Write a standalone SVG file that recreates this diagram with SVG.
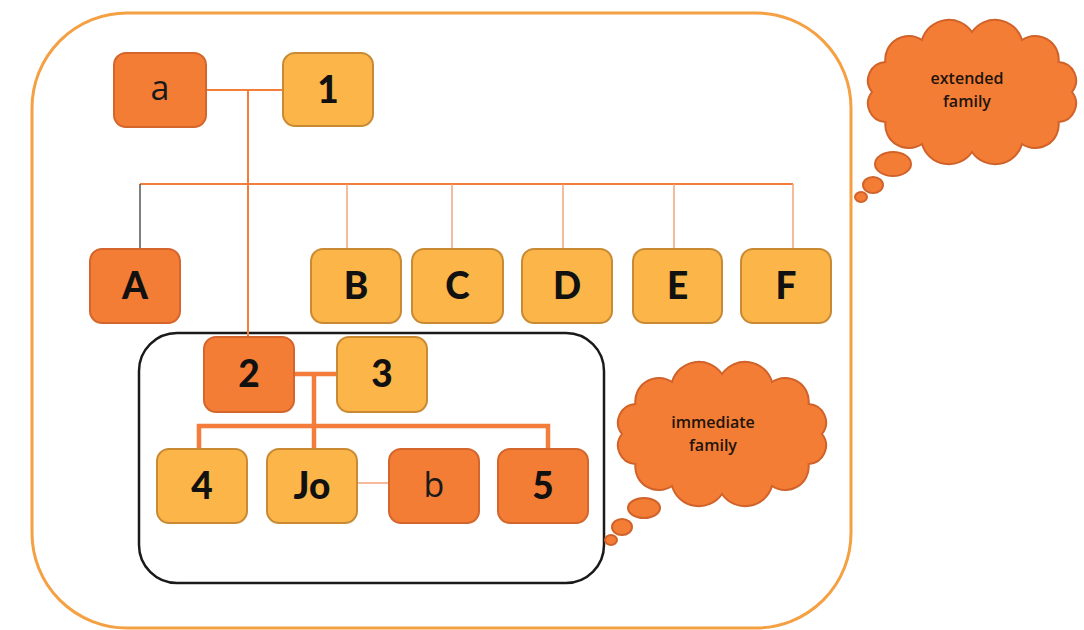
<svg xmlns="http://www.w3.org/2000/svg" width="1084" height="630" viewBox="0 0 1084 630">
<defs>
<style>
.dk{fill:#F47D36;stroke:#D4652C;stroke-width:2}
.lt{fill:#FBB548;stroke:#C98A33;stroke-width:2}
.lb{font-family:Lato,"Liberation Sans",sans-serif;font-weight:900;font-size:37px;fill:#111;text-anchor:middle}
.lr{font-family:"Open Sans","Liberation Sans",sans-serif;font-weight:400;font-size:34px;fill:#1a1a1a;text-anchor:middle}
.ct{font-family:"Open Sans","Liberation Sans",sans-serif;font-weight:600;font-size:16px;fill:#1e140c;text-anchor:middle}
.cloud{fill:#F47D36;stroke:#D0622A;stroke-width:2}
.c1{stroke:#F47D3C;stroke-width:2;fill:none}
.c2{stroke:#F3A47C;stroke-width:1.5;fill:none}
.c3{stroke:#F47D3C;stroke-width:4.5;fill:none}
</style>
<g id="cloudShape">
<path class="cloud" d="M1072,92 A18.5,18.5 0 0 1 1058.6,122 A23.5,23.5 0 0 1 1022,144 A28,28 0 0 1 972,152 A28,28 0 0 1 922,144 A23.5,23.5 0 0 1 885.4,122 A18.5,18.5 0 0 1 872,92 A18.5,18.5 0 0 1 885.4,62 A23.5,23.5 0 0 1 922,40 A28,28 0 0 1 972,32 A28,28 0 0 1 1022,40 A23.5,23.5 0 0 1 1058.6,62 A18.5,18.5 0 0 1 1072,92 Z"/>
</g>
</defs>
<rect width="1084" height="630" fill="#fff"/>
<rect x="32" y="13" width="819" height="615" rx="95" fill="none" stroke="#F4A043" stroke-width="3"/>
<rect x="139" y="333" width="465" height="250" rx="38" fill="none" stroke="#1a1a1a" stroke-width="2.5"/>

<g id="connectors">
<line class="c1" x1="206" y1="90" x2="283" y2="90"/>
<line class="c1" x1="248" y1="90" x2="248" y2="337"/>
<line class="c1" x1="140" y1="184" x2="793" y2="184"/>
<line x1="140" y1="184" x2="140" y2="249" stroke="#555" stroke-width="1.5"/>
<line class="c2" x1="347" y1="184" x2="347" y2="249"/>
<line class="c2" x1="452" y1="184" x2="452" y2="249"/>
<line class="c2" x1="563" y1="184" x2="563" y2="249"/>
<line class="c2" x1="674" y1="184" x2="674" y2="249"/>
<line class="c2" x1="793" y1="184" x2="793" y2="249"/>
<line class="c3" x1="294" y1="374" x2="337" y2="374"/>
<line class="c3" x1="314" y1="374" x2="314" y2="449"/>
<polyline class="c3" points="199,449 199,426 548,426 548,449"/>
<line class="c2" x1="357" y1="483" x2="389" y2="483"/>
</g>

<g id="node-a"><rect class="dk" x="114" y="53" width="92" height="74" rx="12"/><text class="lr" x="160" y="100">a</text></g>
<g id="node-1"><rect class="lt" x="283" y="53" width="90" height="73" rx="12"/><text class="lb" x="328" y="103">1</text></g>
<g id="node-A"><rect class="dk" x="90" y="249" width="90" height="74" rx="12"/><text class="lb" x="135" y="299">A</text></g>
<g id="node-B"><rect class="lt" x="311" y="249" width="90" height="74" rx="12"/><text class="lb" x="356" y="299">B</text></g>
<g id="node-C"><rect class="lt" x="412" y="249" width="91" height="74" rx="12"/><text class="lb" x="457.5" y="299">C</text></g>
<g id="node-D"><rect class="lt" x="522" y="249" width="90" height="74" rx="12"/><text class="lb" x="567" y="299">D</text></g>
<g id="node-E"><rect class="lt" x="633" y="249" width="89" height="74" rx="12"/><text class="lb" x="677.5" y="299">E</text></g>
<g id="node-F"><rect class="lt" x="741" y="249" width="90" height="74" rx="12"/><text class="lb" x="786" y="299">F</text></g>
<g id="node-2"><rect class="dk" x="204" y="337" width="90" height="75" rx="12"/><text class="lb" x="249" y="387">2</text></g>
<g id="node-3"><rect class="lt" x="337" y="337" width="90" height="75" rx="12"/><text class="lb" x="382" y="387">3</text></g>
<g id="node-4"><rect class="lt" x="157" y="449" width="90" height="74" rx="12"/><text class="lb" x="202" y="499">4</text></g>
<g id="node-Jo"><rect class="lt" x="267" y="449" width="90" height="74" rx="12"/><text class="lb" x="312" y="499">Jo</text></g>
<g id="node-b"><rect class="dk" x="389" y="449" width="90" height="74" rx="12"/><text class="lr" x="434" y="497">b</text></g>
<g id="node-5"><rect class="dk" x="498" y="449" width="90" height="74" rx="12"/><text class="lb" x="543" y="499">5</text></g>

<g id="cloud-extended">
<use href="#cloudShape"/>
<ellipse class="cloud" cx="893" cy="164" rx="18" ry="12"/>
<ellipse class="cloud" cx="873" cy="185" rx="10" ry="8"/>
<ellipse class="cloud" cx="861" cy="197" rx="6" ry="5"/>
<text class="ct" x="967" y="84">extended</text>
<text class="ct" x="967" y="107">family</text>
</g>
<g id="cloud-immediate">
<use href="#cloudShape" transform="translate(-250,342)"/>
<ellipse class="cloud" cx="644" cy="508" rx="16" ry="10"/>
<ellipse class="cloud" cx="622" cy="527" rx="10" ry="8"/>
<ellipse class="cloud" cx="611" cy="540" rx="6" ry="5"/>
<text class="ct" x="713" y="428">immediate</text>
<text class="ct" x="713" y="451">family</text>
</g>
</svg>
